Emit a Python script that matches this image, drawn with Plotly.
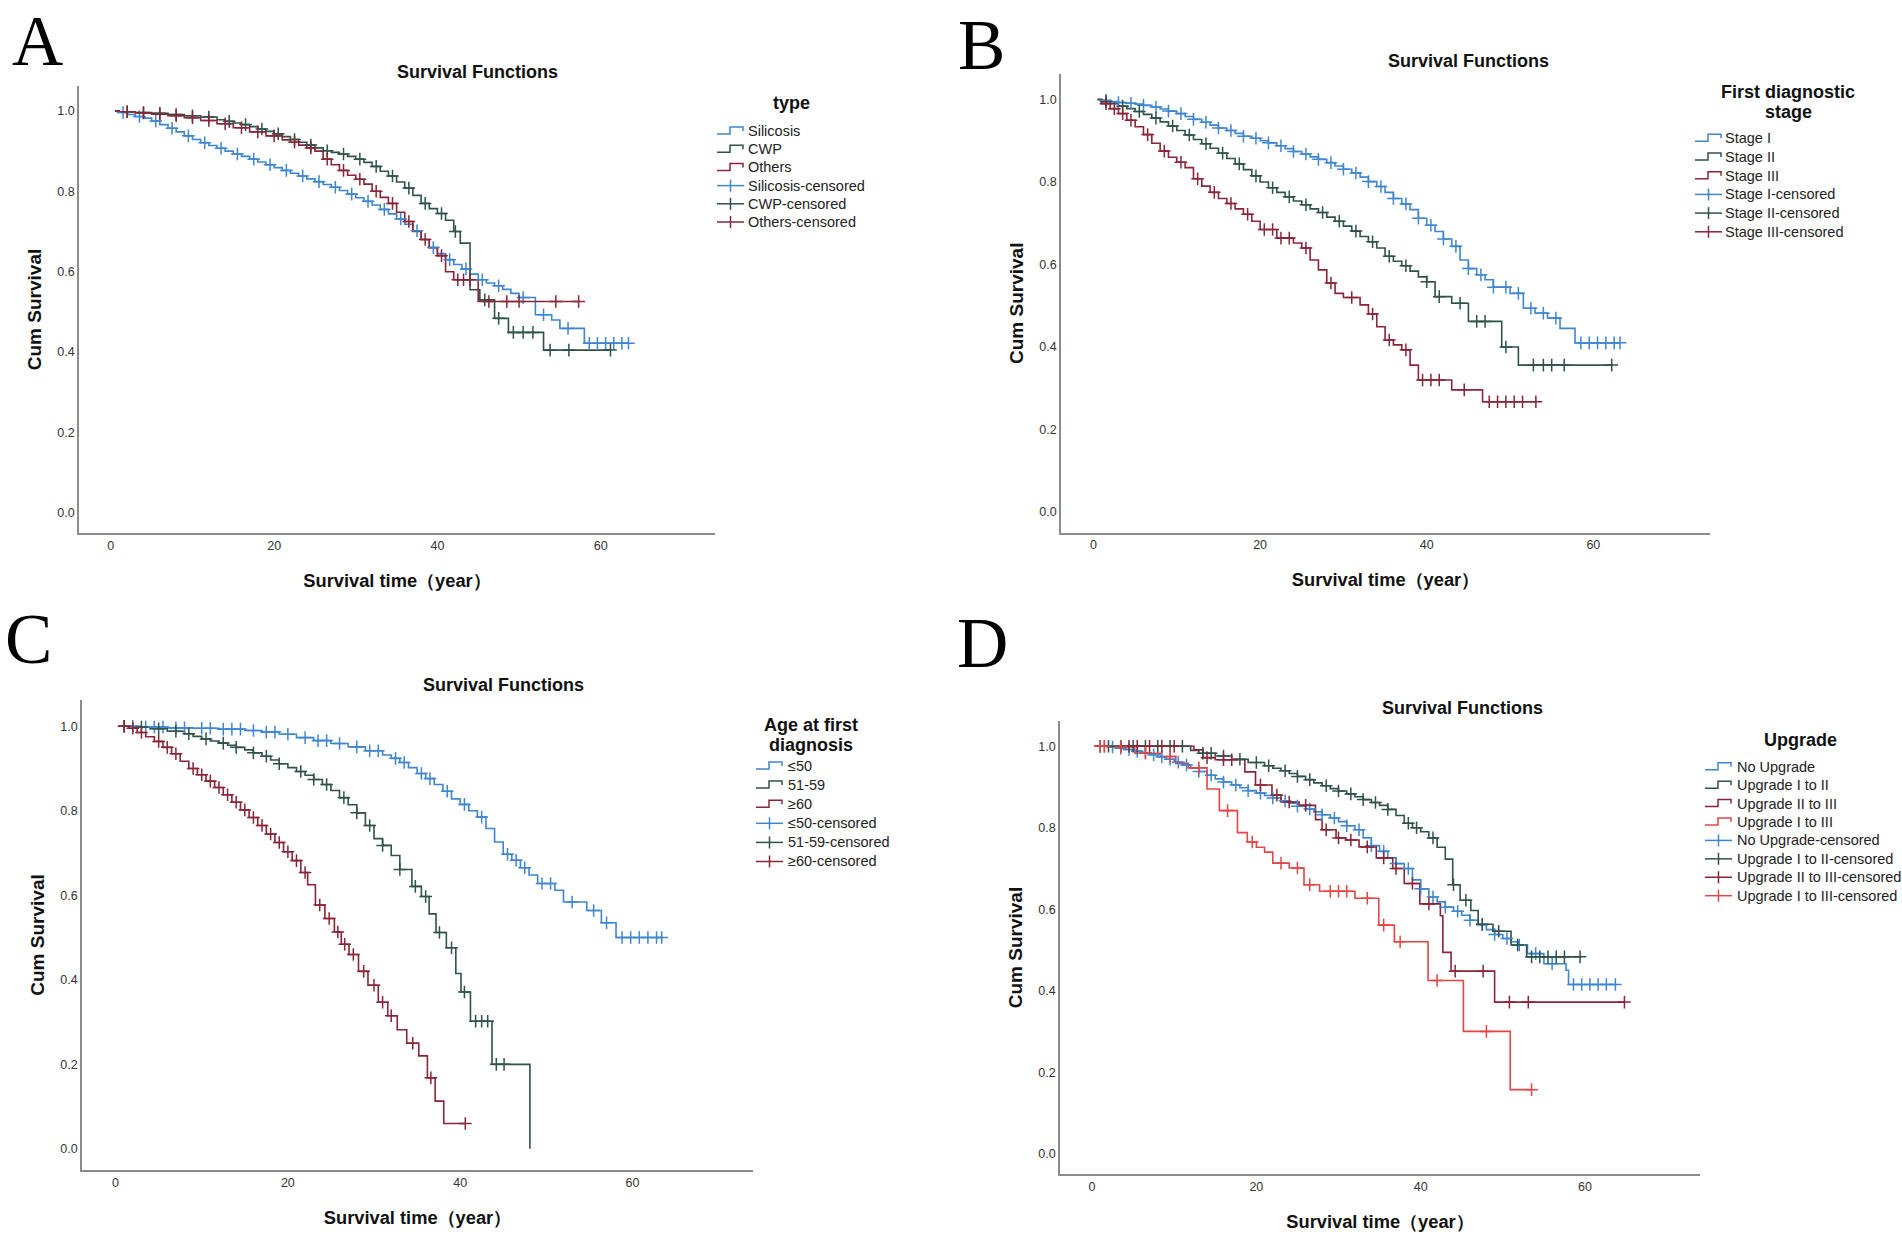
import plotly.graph_objects as go

W, H = 1902, 1237
T0 = 0.5  # first observation time of every curve

# ---------------- Panel A : type ----------------
A_names = ['Silicosis', 'CWP', 'Others']
A_sil_t = [1,2,3,4,5,6,7,8,9,10,11,12,13,14,15,16,17,18,19,20,21,22,23,24,25,26,27,28,29,30,
           31,32,33,34,35,36,37,38,39,40,41,42,43,44,45,46,47,48,49,50,52,54,55,58]
A_sil_s = [.996,.991,.986,.982,.975,.966,.957,.948,.938,.929,.921,.914,.907,.900,.893,.887,.880,.873,.866,.859,
           .852,.845,.838,.831,.824,.817,.810,.802,.793,.784,.775,.766,.755,.744,.731,.718,.702,.680,.660,.645,
           .630,.618,.607,.594,.580,.572,.565,.556,.546,.536,.493,.480,.459,.422]
A_sil_c = [1.5,3.5,5.5,7.5,9.5,11.5,13.5,15.5,17.5,19.5,21.5,23.5,25.5,27.5,29.5,31.5,33.5,35.5,37.5,39.5,
           41.5,43.5,45.5,47.5,50.5,53,56,58.6,59.6,60.6,61.6,62.6,63.4]
A_cwp_t = [1,3,5,7,9,11,13,14,15,16,17,18,19,20,21,22,23,24,25,26,27,28,29,30,31,32,33,34,35,36,37,38,39,40,
           41,42,42.8,44,45.2,47,48.7,53]
A_cwp_s = [.998,.996,.994,.991,.988,.985,.978,.974,.970,.966,.961,.955,.949,.943,.936,.929,.922,.915,.908,.901,
           .897,.893,.887,.880,.872,.862,.850,.838,.823,.808,.790,.770,.757,.745,.728,.700,.671,.555,.530,.484,.449,.405]
A_cwp_c = [2,4,6,8,10,12,14.5,16.5,18.5,20.5,22.5,24.5,26.5,28.5,30.5,32.5,34.5,36.5,38.5,40.5,42.2,45.8,47.5,
           49.3,50.5,51.7,53.8,56.1,61.2]
A_oth_t = [1,3,5,7,9,11,13,15,17,19,21,22,23,24,25,26,27,28,29,30,31,32,33,34,35,36,37,38,39,40,41,42,45]
A_oth_s = [.998,.995,.992,.988,.983,.976,.968,.958,.948,.938,.928,.922,.915,.908,.900,.880,.866,.852,.840,.830,
           .818,.800,.785,.770,.748,.725,.700,.680,.660,.640,.600,.580,.526]
A_oth_c = [2,4,6,8,10,12,14,16,18,20,22.5,24.5,26.5,28.5,30.5,32.5,34.5,36.5,38.5,40.5,42.5,43.2,44,46.3,48.5,
           50,54.5,57.3]

# ---------------- Panel B : first diagnostic stage ----------------
B_names = ['Stage I', 'Stage II', 'Stage III']
B_s1_t = [1,2,3,4,5,6,7,8,9,10,11,12,13,14,15,16,17,18,19,20,21,22,23,24,25,26,27,28,29,30,31,32,33,34,35,36,
          37,38,39,40,41,42,43,44,45,46,47,48,50,51.6,53,54.5,56,57.8]
B_s1_s = [.998,.995,.993,.991,.989,.986,.982,.977,.972,.966,.959,.952,.945,.938,.931,.925,.918,.911,.906,.900,
          .895,.888,.881,.874,.868,.861,.855,.847,.839,.831,.822,.812,.801,.789,.775,.760,.747,.733,.712,.695,
          .680,.662,.644,.611,.590,.575,.563,.545,.530,.494,.482,.470,.445,.410]
B_s1_c = [1.5,3,4.5,6,7.5,9,10.5,12,13.5,15,16.5,18,19.5,21,22.5,24,25.5,27,28.5,30,31.5,33,34.5,36,37.5,39,
          40.5,42,43.5,45,46.5,48,49.5,51,52.5,54,55.5,58.5,59.5,60.5,61.5,62.5,63.2]
B_s2_t = [1,2,3,4,5,6,7,8,9,10,11,12,13,14,15,16,17,18,19,20,21,22,23,24,25,26,27,28,29,30,31,32,33,34,35,36,
          37,38,39,40,41,43,45,49,51]
B_s2_s = [.995,.990,.984,.978,.971,.964,.955,.946,.936,.925,.914,.903,.893,.882,.870,.857,.844,.830,.815,.800,
          .786,.775,.764,.754,.745,.735,.726,.715,.705,.693,.681,.668,.655,.640,.620,.608,.597,.584,.570,.558,
          .522,.506,.462,.400,.356]
B_s2_c = [1.5,3.5,5.5,7.5,9.5,11.5,13.5,15.5,17.5,19.5,21.5,23.5,25.5,27.5,29.5,31.5,33.5,35.5,37.5,40,41.5,
          44,46,47,49.5,52.8,54,55,56.5,62.2]
B_s3_t = [1,2,3,4,5,6,7,8,9,10,11,12,13,14,15,16,17,18,19,20,22,24,25,26,27,28,29,30,32,33,34,35,36,37,38,39,
          43,46.7]
B_s3_s = [.990,.978,.966,.950,.934,.915,.894,.875,.860,.848,.835,.808,.790,.775,.760,.748,.735,.722,.705,.685,
          .664,.652,.640,.611,.587,.555,.530,.520,.502,.480,.449,.417,.405,.393,.356,.320,.296,.267]
B_s3_c = [1.5,2.5,3.5,4.5,6.5,8.5,10.5,12.5,14.5,16.5,18.5,20.5,21.5,22.5,23.5,25.5,28.5,31,33.5,35.5,37.5,
          39.5,40.5,41.5,44.5,47.5,48.5,49.5,50.5,51.5,53.1]

# ---------------- Panel C : age at first diagnosis ----------------
C_names = ['≤50', '51-59', '≥60']
C_y_t = [3,6,9,12,15,17,19,21,23,25,27,29,31,32,33,34,35,36,37,38,39,40,41,42,43,44,45,46,47,48,49,51,52,
         54.7,56.4,58.1]
C_y_s = [.998,.996,.995,.993,.990,.986,.981,.973,.966,.959,.951,.942,.932,.924,.914,.902,.888,.876,.862,.846,
         .828,.815,.800,.785,.758,.726,.697,.683,.665,.648,.628,.612,.584,.564,.535,.500]
C_y_c = [1,2,3.5,4.5,5.5,7,8,10,11,12.5,13.5,14.5,16,17.5,18.5,20,22,23.5,24.5,26,28,29.5,30.5,32.5,33.5,
         35.5,36.5,38.5,40.5,42.5,45.5,46.5,47.5,49.5,50.5,53,55.5,57,58.8,59.8,60.8,61.8,62.8,63.4]
C_m_t = [2,4,6,8,9,10,11,12,13,14,15,16,17,18,19,20,21,22,23,24,25,26,27,28,29,30,31,32,33,34.4,35.5,36.4,
         37.2,38.4,39.5,40.1,41.2,43.7,48.1]
C_m_s = [.998,.994,.988,.982,.976,.970,.965,.960,.955,.950,.944,.937,.929,.920,.911,.902,.893,.884,.874,.862,
         .848,.831,.814,.795,.765,.734,.718,.694,.661,.621,.597,.556,.512,.476,.415,.371,.302,.200,0.0]
C_m_c = [1,3,5,7,8.5,10.5,12.5,14,16,17.5,19,21.5,23,24.5,26.5,28,29.5,31,33,34.8,36,37.6,39,40.5,41.8,42.5,
         43.2,44.2,45.1]
C_o_t = [1.5,2.5,3.5,4.5,5.5,6.5,7.5,8.5,9.5,10.5,11.5,12.5,13.5,14.5,15.5,16.5,17.5,18.5,19.5,20.5,21.5,
         22.3,23.2,24.3,25.4,26.2,27.1,28.2,29.3,30.5,31.6,32.7,33.8,35.2,36.2,37.1,38.1]
C_o_s = [.995,.985,.975,.964,.950,.935,.917,.900,.885,.870,.855,.838,.820,.802,.784,.765,.745,.725,.703,.682,
         .654,.625,.577,.545,.513,.484,.460,.420,.387,.347,.315,.282,.250,.220,.168,.113,.060]
C_o_c = [1,2,3,5,6,7,9,10,11,12,13,14,15,16,17,18,19,20,21,22,23.7,24.8,25.8,26.6,27.6,28.8,30,31,32,34.5,
         36.6,40.6]

# ---------------- Panel D : upgrade ----------------
D_names = ['No Upgrade', 'Upgrade I to II', 'Upgrade II to III', 'Upgrade I to III']
D_n_t = [2,3,4,5,6,7,8,9,10,11,12,13,14,15,16,17,18,19,20,21,22,23,24,25,26,27,28,29,30,31,32,33,34,35,36,37,
         38,39,40,41,42,43,44,45,46,47,48,49,50,51,52,53,55,57.7,58]
D_n_s = [.998,.995,.992,.988,.984,.979,.974,.968,.961,.954,.946,.938,.929,.920,.912,.905,.898,.891,.885,.879,
         .873,.866,.860,.853,.846,.839,.832,.824,.815,.805,.795,.775,.756,.742,.726,.712,.700,.672,.650,.630,
         .618,.605,.595,.585,.573,.562,.550,.538,.528,.520,.512,.491,.466,.450,.415]
D_n_c = [1,1.5,2.5,3.5,4.5,5.5,6.5,7.5,8.5,9.5,10.5,11.5,13,14.5,16,17.5,19,20.5,22,23.5,25,26.5,28,29.5,31,
         32.5,34,35.5,37,38.5,40,41.5,43,44.5,46,47.5,49,50.5,52,54,56,58.6,59.6,60.6,61.6,62.6,63.7]
D_u12_t = [12,13,15,17,19,21,22,23,24,25,26,27,28,29,30,31,32,33,34,35,36,37,38,39,40,41,42,43,43.9,44.8,
           46.1,47,48.8,51,52.9]
D_u12_s = [.990,.983,.976,.968,.960,.952,.946,.940,.933,.926,.918,.910,.903,.896,.890,.883,.876,.869,.862,.855,
           .845,.830,.811,.800,.790,.775,.752,.723,.660,.622,.597,.563,.546,.512,.483]
D_u12_c = [1,2,3.5,5,6.5,8,9.5,11,13.5,14.5,16,18,20,21.5,23.5,25,26.5,28.5,30,31.5,33,34.5,36,38.5,39.5,41.5,
           44,45.5,47.5,49.5,51.8,53.5,54.5,55.5,56.5,57.5,59.4]
D_u23_t = [12.4,13.5,15,18.6,19.9,21.9,23,25.2,27.2,28,29.7,30.9,32.5,34.6,36.6,38,39.9,42.4,42.7,43.7,49]
D_u23_s = [.991,.972,.967,.937,.905,.880,.863,.855,.820,.795,.775,.770,.753,.726,.700,.663,.613,.584,.494,.448,.372]
D_u23_c = [4.5,5.5,7,8.5,10,14,16,17,20.5,22.5,24,26,28.5,30,31.5,33.5,35.5,37,39,41,44.2,47.6,50.8,53.1,64.8]
D_u13_t = [2.7,5.2,8.4,10.2,11.7,14,15.5,17.7,18.9,20,21,22,24,25.8,27.7,32,34.9,36.8,40.9,45.2,50.9]
D_u13_s = [.998,.983,.975,.958,.947,.895,.842,.788,.765,.752,.740,.713,.701,.660,.644,.627,.561,.520,.425,.300,.157]
D_u13_c = [1,1.5,3.5,6.5,9.5,13,16.5,19.5,23,25,26.5,29,30,31,33.5,35.5,37.5,42,48,53.5]

X_TICKS = [0, 20, 40, 60]
Y_TICKS = [0.0, 0.2, 0.4, 0.6, 0.8, 1.0]
X_RANGE = [-3.9, 74]
Y_RANGE = [-0.05, 1.062]

BLUE, GREEN, MAROON, RED = '#3f86cf', '#2f5249', '#8a2436', '#e64545'
AXIS = '#8c8c8c'
SANS = 'Liberation Sans, Arial, sans-serif'
NARROW = 'Liberation Sans Narrow, Arial Narrow, Liberation Sans, sans-serif'
SERIF = 'Liberation Serif, Times New Roman, serif'

for a, b in [(A_sil_t, A_sil_s), (A_cwp_t, A_cwp_s), (A_oth_t, A_oth_s), (B_s1_t, B_s1_s), (B_s2_t, B_s2_s),
             (B_s3_t, B_s3_s), (C_y_t, C_y_s), (C_m_t, C_m_s), (C_o_t, C_o_s), (D_n_t, D_n_s),
             (D_u12_t, D_u12_s), (D_u23_t, D_u23_s), (D_u13_t, D_u13_s)]:
    assert len(a) == len(b), (len(a), len(b))


def PX(x):
    return x / W


def PY(y):
    return 1 - y / H


def surv_at(t_ev, s_ev, c):
    s = 1.0
    for t, v in zip(t_ev, s_ev):
        if t <= c:
            s = v
        else:
            break
    return s


fig = go.Figure()
shapes = []
ann = []


def add_panel(k, names, series, colors):
    xa, ya = ('x', 'y') if k == 1 else ('x%d' % k, 'y%d' % k)
    for name, (t, s, c), col in zip(names, series, colors):
        xs = [T0] + list(t) + [max(t[-1], c[-1])]
        ys = [1.0] + list(s) + [s[-1]]
        fig.add_trace(go.Scatter(x=xs, y=ys, mode='lines', name=name, xaxis=xa, yaxis=ya, showlegend=False,
                                 line=dict(color=col, width=1.6, shape='hv'), hoverinfo='skip'))
    for name, (t, s, c), col in zip(names, series, colors):
        fig.add_trace(go.Scatter(x=c, y=[surv_at(t, s, ci) for ci in c], mode='markers',
                                 name=name + '-censored', xaxis=xa, yaxis=ya, showlegend=False,
                                 marker=dict(symbol='cross-thin', size=9, color=col,
                                             line=dict(color=col, width=1.5)), hoverinfo='skip'))


def draw_legend(title_lines, title_cx, title_ys, names, colors, icon_x0, text_x, row_y0, row_dy):
    for line, ty in zip(title_lines, title_ys):
        ann.append(dict(text='<b>%s</b>' % line, x=PX(title_cx), y=PY(ty), xref='paper', yref='paper',
                        showarrow=False, xanchor='center', yanchor='middle',
                        font=dict(family=SANS, size=18, color='#111')))
    entries = [(n, c, 'step') for n, c in zip(names, colors)] + \
              [(n + '-censored', c, 'plus') for n, c in zip(names, colors)]
    for i, (label, col, kind) in enumerate(entries):
        yc = row_y0 + i * row_dy
        x0 = icon_x0
        if kind == 'step':
            path = 'M %f,%f L %f,%f L %f,%f L %f,%f L %f,%f' % (
                PX(x0), PY(yc + 3), PX(x0 + 13), PY(yc + 3), PX(x0 + 13), PY(yc - 4),
                PX(x0 + 26), PY(yc - 4), PX(x0 + 26), PY(yc))
            shapes.append(dict(type='path', path=path, xref='paper', yref='paper',
                               line=dict(color=col, width=1.5)))
        else:
            shapes.append(dict(type='line', x0=PX(x0), x1=PX(x0 + 27), y0=PY(yc), y1=PY(yc), xref='paper',
                               yref='paper', line=dict(color=col, width=1.5)))
            shapes.append(dict(type='line', x0=PX(x0 + 13.5), x1=PX(x0 + 13.5), y0=PY(yc - 6), y1=PY(yc + 6),
                               xref='paper', yref='paper', line=dict(color=col, width=1.5)))
        ann.append(dict(text=label, x=PX(text_x), y=PY(yc), xref='paper', yref='paper', showarrow=False,
                        xanchor='left', yanchor='middle', font=dict(family=SANS, size=14.5, color='#222')))


add_panel(1, A_names,
          [(A_sil_t, A_sil_s, A_sil_c), (A_cwp_t, A_cwp_s, A_cwp_c), (A_oth_t, A_oth_s, A_oth_c)],
          [BLUE, GREEN, MAROON])
add_panel(2, B_names,
          [(B_s1_t, B_s1_s, B_s1_c), (B_s2_t, B_s2_s, B_s2_c), (B_s3_t, B_s3_s, B_s3_c)],
          [BLUE, GREEN, MAROON])
add_panel(3, C_names,
          [(C_y_t, C_y_s, C_y_c), (C_m_t, C_m_s, C_m_c), (C_o_t, C_o_s, C_o_c)],
          [BLUE, GREEN, MAROON])
add_panel(4, D_names,
          [(D_n_t, D_n_s, D_n_c), (D_u12_t, D_u12_s, D_u12_c), (D_u23_t, D_u23_s, D_u23_c),
           (D_u13_t, D_u13_s, D_u13_c)],
          [BLUE, GREEN, MAROON, RED])

draw_legend(['type'], 791, [103], A_names, [BLUE, GREEN, MAROON], 717, 746, 131, 18.2)
draw_legend(['First diagnostic', 'stage'], 1788, [92, 112.5], B_names, [BLUE, GREEN, MAROON],
            1695, 1723, 138.3, 18.7)
draw_legend(['Age at first', 'diagnosis'], 811, [725, 745], C_names, [BLUE, GREEN, MAROON],
            756, 786, 766, 19.1)
draw_legend(['Upgrade'], 1800, [740], D_names, [BLUE, GREEN, MAROON, RED], 1705, 1735, 766.7, 18.43)

# pixel boxes of the four plot areas (left, right, top, bottom)
BOXES = {1: (79, 715, 86, 533), 2: (1061, 1710, 74, 532.5), 3: (82, 753, 700, 1170), 4: (1060, 1700, 721, 1174)}

layout = dict(width=W, height=H, margin=dict(l=0, r=0, t=0, b=0), paper_bgcolor='white',
              plot_bgcolor='white', showlegend=False)
for k, (l, r, t, b) in BOXES.items():
    xk = 'xaxis' if k == 1 else 'xaxis%d' % k
    yk = 'yaxis' if k == 1 else 'yaxis%d' % k
    xa = 'x' if k == 1 else 'x%d' % k
    ya = 'y' if k == 1 else 'y%d' % k
    layout[xk] = dict(domain=[l / W, r / W], anchor=ya, range=X_RANGE, tickvals=X_TICKS,
                      showline=True, linecolor=AXIS, linewidth=1.5, showgrid=False, zeroline=False, ticks='',
                      tickfont=dict(family=NARROW, size=12.5, color='#333'), fixedrange=True,
                      title=dict(text='<b>Survival time（year）</b>', font=dict(family=SANS, size=18.3, color='#111'),
                                 standoff=22))
    layout[yk] = dict(domain=[1 - b / H, 1 - t / H], anchor=xa, range=Y_RANGE, tickvals=Y_TICKS,
                      tickformat='.1f', showline=True, linecolor=AXIS, linewidth=1.5, showgrid=False,
                      zeroline=False, ticks='', tickfont=dict(family=NARROW, size=12.5, color='#333'),
                      fixedrange=True,
                      title=dict(text='<b>Cum Survival</b>', font=dict(family=SANS, size=19, color='#111'),
                                 standoff=11))

# panel letters (box top in px)
for txt, (cx, top) in zip(['A', 'B', 'C', 'D'], [(37, 0), (981, 4), (28, 598), (982, 602)]):
    ann.append(dict(text=txt, x=PX(cx), y=PY(top), xref='paper', yref='paper', showarrow=False,
                    xanchor='center', yanchor='top', font=dict(family=SERIF, size=71, color='#000')))
for (cx, cy) in [(477, 72), (1468, 61), (503, 685), (1462, 708)]:
    ann.append(dict(text='<b>Survival Functions</b>', x=PX(cx), y=PY(cy), xref='paper', yref='paper',
                    showarrow=False, xanchor='center', yanchor='middle',
                    font=dict(family=SANS, size=18, color='#111')))
layout['annotations'] = ann
layout['shapes'] = shapes

fig.update_layout(**layout)
fig.write_html('out.html', config={'displayModeBar': False},
               post_script="document.body.style.margin='0';document.body.style.overflow='hidden';")
